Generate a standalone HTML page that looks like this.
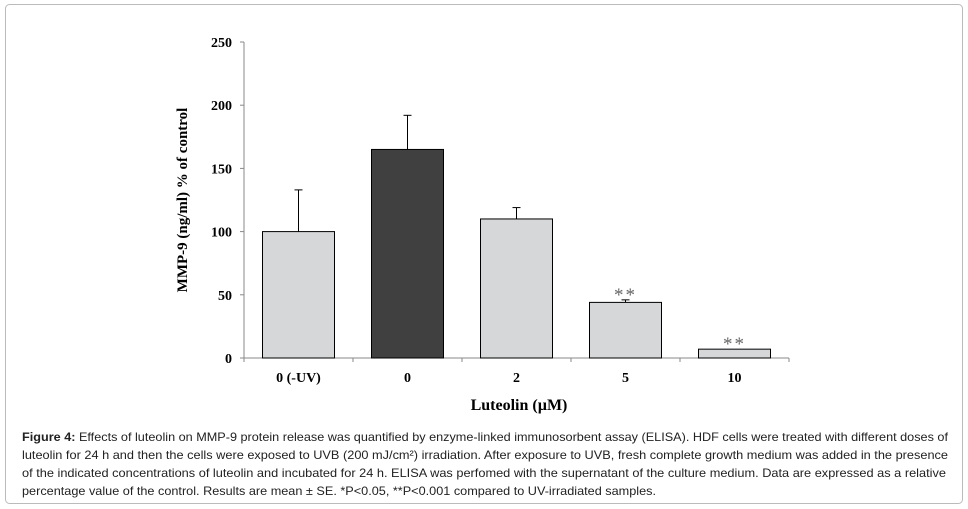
<!DOCTYPE html>
<html><head><meta charset="utf-8"><style>
body{margin:0;background:#fff;}
svg{display:block;font-family:"Liberation Serif",serif;}
</style></head><body>
<svg width="968" height="509" viewBox="0 0 968 509">
<rect x="5.5" y="4.5" width="957" height="499" rx="4" fill="#fff" stroke="#bbb"/>
<g id="chart"></g>
<text x="519" y="410" font-size="16" font-weight="bold" text-anchor="middle">Luteolin (µM)</text>
<text transform="translate(187,200) rotate(-90)" font-size="15" font-weight="bold" text-anchor="middle">MMP-9 (ng/ml) % of control</text>
<g font-family="Liberation Sans, sans-serif" font-size="12" fill="#222">
<text x="22" y="441" textLength="926" lengthAdjust="spacingAndGlyphs"><tspan font-weight="bold">Figure 4:</tspan> Effects of luteolin on MMP-9 protein release was quantified by enzyme-linked immunosorbent assay (ELISA). HDF cells were treated with different doses of</text>
<text x="22" y="459" textLength="926" lengthAdjust="spacingAndGlyphs">luteolin for 24 h and then the cells were exposed to UVB (200 mJ/cm²) irradiation. After exposure to UVB, fresh complete growth medium was added in the presence</text>
<text x="22" y="477" textLength="924" lengthAdjust="spacingAndGlyphs">of the indicated concentrations of luteolin and incubated for 24 h. ELISA was perfomed with the supernatant of the culture medium. Data are expressed as a relative</text>
<text x="22" y="495" textLength="634" lengthAdjust="spacingAndGlyphs">percentage value of the control. Results are mean ± SE. *P&lt;0.05, **P&lt;0.001 compared to UV-irradiated samples.</text>
</g>
</svg>
<script>
const categories=["0 (-UV)","0","2","5","10"];
const values=[100,165,110,44,7];
const errors=[33,27,9,2,0];
const marks=["","","","**","**"];
const yTicks=[0,50,100,150,200,250];
const NS="http://www.w3.org/2000/svg";
const g=document.getElementById('chart');
const x0=244,x1=789,y0=358,y1=42,ymax=250;
const y=v=>y0-(v/ymax)*(y0-y1);
const bw=(x1-x0)/categories.length;
function mk(t,a,p){const e=document.createElementNS(NS,t);for(const k in a)e.setAttribute(k,a[k]);(p||g).appendChild(e);return e;}
let ax=mk('line',{x1:x0,y1:y1,x2:x0,y2:y0,stroke:'#888'});


let bx=mk('line',{x1:x0,y1:y0,x2:x1,y2:y0,stroke:'#888'});


yTicks.forEach(t=>{
 mk('line',{x1:x0-4,x2:x0,y1:y(t),y2:y(t),stroke:'#888'});
 const tx=mk('text',{x:x0-12,y:y(t)+5,'font-size':14,'font-weight':'bold','text-anchor':'end'});
 tx.textContent=t;
 
 
});
for(let i=0;i<=categories.length;i++){mk('line',{x1:x0+i*bw,x2:x0+i*bw,y1:y0,y2:y0+4,stroke:'#888'});}
categories.forEach((c,i)=>{
 const cx=x0+bw*(i+0.5), w=72;
 if(errors[i]>0){
  const el=mk('line',{x1:cx,x2:cx,y1:y(values[i]),y2:y(values[i]+errors[i]),stroke:'#000'});
  
  
  mk('line',{x1:cx-4,x2:cx+4,y1:y(values[i]+errors[i]),y2:y(values[i]+errors[i]),stroke:'#000'});
 }
 const r=mk('rect',{x:cx-w/2,y:y(values[i]),width:w,height:y0-y(values[i]),fill:i==1?'#404040':'#d6d7d9',stroke:'#000'});
 
 
 const t=mk('text',{x:cx,y:y0+24,'font-size':14,'font-weight':'bold','text-anchor':'middle'});
 t.textContent=c;
 
 
 if(marks[i]){
  const s=mk('text',{x:cx,y:y(values[i]+errors[i])+1,'font-size':19,fill:'#666','text-anchor':'middle','letter-spacing':'2'});
  s.textContent=marks[i];
  
  
 }
});
</script>
</body></html>
